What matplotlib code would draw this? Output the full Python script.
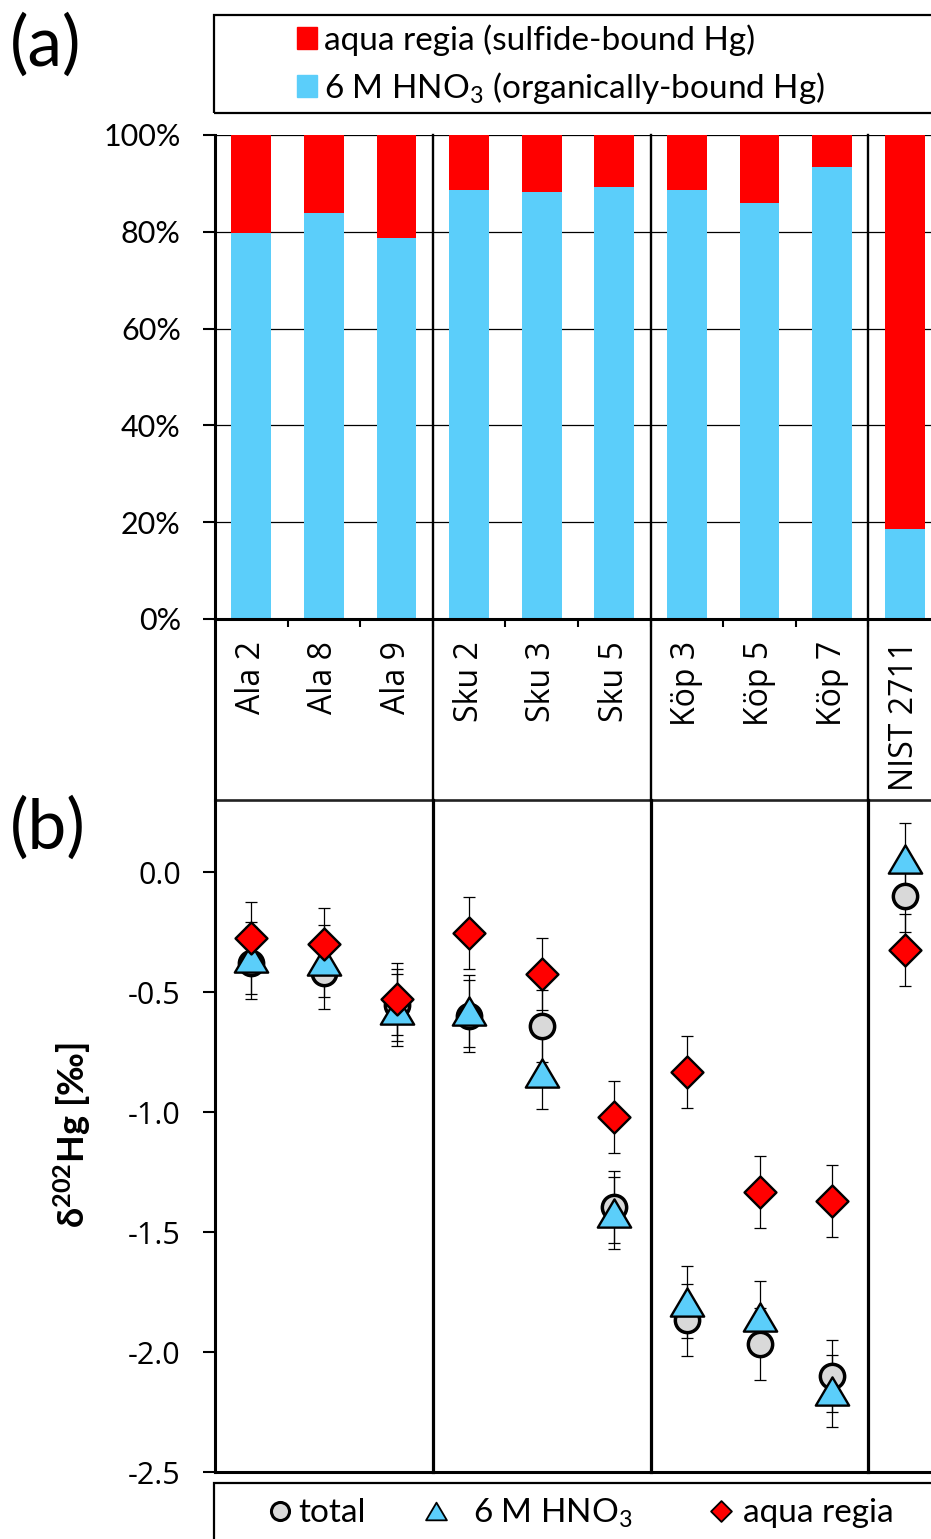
import numpy as np
import matplotlib
matplotlib.use("Agg")
import matplotlib.pyplot as plt
from matplotlib.patches import Patch, Rectangle
from matplotlib.lines import Line2D
from matplotlib.path import Path
from matplotlib import transforms

plt.rcParams['mathtext.fontset'] = 'custom'
plt.rcParams['mathtext.rm'] = 'Lato'
plt.rcParams['mathtext.bf'] = 'Lato:bold'
plt.rcParams['mathtext.it'] = 'Lato:italic'

# ---------------- data ----------------
samples = ["Ala 2", "Ala 8", "Ala 9", "Sku 2", "Sku 3", "Sku 5",
           "Köp 3", "Köp 5", "Köp 7", "NIST 2711"]
group_bounds = [2.5, 5.5, 8.5]

# (a) fraction of Hg (%)
hno3_pct = [79.8, 83.9, 78.7, 88.6, 88.2, 89.3, 88.6, 86.0, 93.4, 18.6]
aqua_pct = [20.2, 16.1, 21.3, 11.4, 11.8, 10.7, 11.4, 14.0, 6.6, 81.4]

# (b) delta202Hg (permil)
d_total = [-0.38, -0.42, -0.555, -0.598, -0.642, -1.395, -1.868, -1.968, -2.101, -0.101]
d_hno3 = [-0.36, -0.37, -0.575, -0.58, -0.839, -1.421, -1.792, -1.853, -2.162, 0.054]
d_aqua = [-0.276, -0.30, -0.53, -0.256, -0.425, -1.02, -0.835, -1.334, -1.370, -0.326]
err_total = [0.15] * 10
err_hno3 = [0.15] * 10
err_aqua = [0.15] * 10

pct_ticks = [0, 20, 40, 60, 80, 100]
pct_labels = ["0%", "20%", "40%", "60%", "80%", "100%"]
d_ticks = [0.0, -0.5, -1.0, -1.5, -2.0, -2.5]
d_labels = ["0.0", "-0.5", "-1.0", "-1.5", "-2.0", "-2.5"]

RED = "#FF0000"
CYAN = "#5BCEFA"
GREY = "#D9D9D9"

CAL = ["Lato", "DejaVu Sans"]
SEG = ["Open Sans", "DejaVu Sans"]

W, H = 931, 1539
def fx(px): return px / W
def fy(py): return 1 - py / H

fig = plt.figure(figsize=(W / 100, H / 100), dpi=100)

axa = fig.add_axes([fx(215), fy(619), fx(941) - fx(215), (619 - 135) / H])
axb = fig.add_axes([fx(215), fy(1472), fx(941) - fx(215), (1472 - 800) / H])

x = np.arange(len(samples))

# ---------------- panel (a) ----------------
axa.bar(x, hno3_pct, width=0.55, color=CYAN, zorder=2)
axa.bar(x, aqua_pct, bottom=hno3_pct, width=0.55, color=RED, zorder=2)
axa.set_xlim(-0.5, 9.5)
axa.set_ylim(0, 100)
axa.set_axisbelow(True)
axa.yaxis.grid(True, color="black", lw=0.9)
axa.set_yticks(pct_ticks)
axa.set_yticklabels(pct_labels, family=CAL, fontsize=22)
axa.tick_params(axis="y", direction="out", length=8.6, width=1.5, pad=16)
axa.set_xticks(x)
axa.set_xticklabels(samples, rotation=90, family=SEG, fontsize=23)
axa.tick_params(axis="x", which="major", length=0, pad=16)
axa.set_xticks(np.arange(0.5, 9.0, 1.0), minor=True)
axa.tick_params(axis="x", which="minor", direction="out", length=6, width=1.5)
for s in ["top", "right"]:
    axa.spines[s].set_visible(False)
axa.spines["left"].set_linewidth(2.2)
axa.spines["bottom"].set_linewidth(2.2)

# ---------------- panel (b) ----------------
axb.set_xlim(-0.5, 9.5)
axb.set_ylim(-2.5, 0.3)
axb.set_xticks([])
axb.set_yticks(d_ticks)
axb.set_yticklabels(d_labels, family=SEG, fontsize=22)
axb.tick_params(axis="y", direction="out", length=8.6, width=1.5, pad=16)
axb.spines["right"].set_visible(False)
axb.spines["left"].set_linewidth(2.2)
axb.spines["bottom"].set_linewidth(2.2)
axb.spines["top"].set_linewidth(1.9)
axb.spines["top"].set_color("#222222")

tri = Path([(0, 1), (-1.18, -1), (1.18, -1), (0, 1)], [1, 2, 2, 79])
dia = Path([(0, 1), (1, 0), (0, -1), (-1, 0), (0, 1)], [1, 2, 2, 2, 79])

for yv, ev in [(d_total, err_total), (d_hno3, err_hno3), (d_aqua, err_aqua)]:
    axb.errorbar(x, yv, yerr=ev, fmt="none", ecolor="black", elinewidth=0.9,
                 capsize=4.3, capthick=0.9, zorder=2)
axb.plot(x, d_total, ls="none", marker="o", ms=17.5, mfc=GREY, mec="black", mew=2.5, zorder=3)
axb.plot(x, d_hno3, ls="none", marker=tri, ms=24, mfc=CYAN, mec="black", mew=1.7, zorder=4)
axb.plot(x, d_aqua, ls="none", marker=dia, ms=23, mfc=RED, mec="black", mew=1.7, zorder=5)

axb.set_ylabel(r"δ$\mathbf{^{202}}$Hg [‰]", family=CAL, fontsize=26, fontweight="bold")
axb.yaxis.set_label_coords((93 - 215) / 726, (1472 - 1135) / 672)

# group separators spanning both panels and the label band
bt = transforms.blended_transform_factory(axa.transData, fig.transFigure)
for xb in group_bounds:
    fig.add_artist(Line2D([xb, xb], [fy(135), fy(800)], transform=bt, color="black", lw=1.7))
    fig.add_artist(Line2D([xb, xb], [fy(800), fy(1472)], transform=bt, color="black", lw=2.3))
fig.add_artist(Line2D([-0.5, -0.5], [fy(619), fy(800)], transform=bt, color="black", lw=2.2))

# ---------------- legends ----------------
def entry(handle, label, xc, yc, hl, pad, fs=24):
    fsp = fs * 100 / 72
    left = xc - hl * fsp / 2
    lg = fig.legend(handles=[handle], labels=[label], loc="center left",
                    bbox_to_anchor=(fx(left), fy(yc)), frameon=False,
                    borderpad=0, borderaxespad=0, handlelength=hl,
                    handleheight=0.65, handletextpad=pad,
                    prop={"family": CAL, "size": fs})
    return lg

fig.add_artist(Rectangle((fx(214), fy(113)), 0.9, (113 - 15) / H, transform=fig.transFigure,
                         fill=False, ec="black", lw=1.6, clip_on=False))
entry(Patch(color=RED), "aqua regia (sulfide-bound Hg)", 307, 40, 0.6, 0.22)
entry(Patch(color=CYAN), "6 M HNO$_3$ (organically-bound Hg)", 307, 88, 0.6, 0.22)

fig.add_artist(Rectangle((fx(214), fy(1560)), 0.9, (1560 - 1483) / H, transform=fig.transFigure,
                         fill=False, ec="black", lw=1.6, clip_on=False))
h_c = Line2D([], [], ls="none", marker="o", ms=13, mfc=GREY, mec="black", mew=2.2)
h_t = Line2D([], [], ls="none", marker=tri, ms=15, mfc=CYAN, mec="black", mew=1.3)
h_d = Line2D([], [], ls="none", marker=dia, ms=15, mfc=RED, mec="black", mew=1.3)
entry(h_c, "total", 280, 1513, 0.6, 0.25)
entry(h_t, "6 M HNO$_3$", 436, 1513, 0.6, 0.8)
entry(h_d, "aqua regia", 721, 1513, 0.6, 0.35)

# panel letters
fig.text(fx(10), fy(45), "(a)", family=CAL, fontsize=50, va="center", ha="left")
fig.text(fx(10), fy(828), "(b)", family=CAL, fontsize=50, va="center", ha="left")

fig.savefig("out.png", dpi=100)
